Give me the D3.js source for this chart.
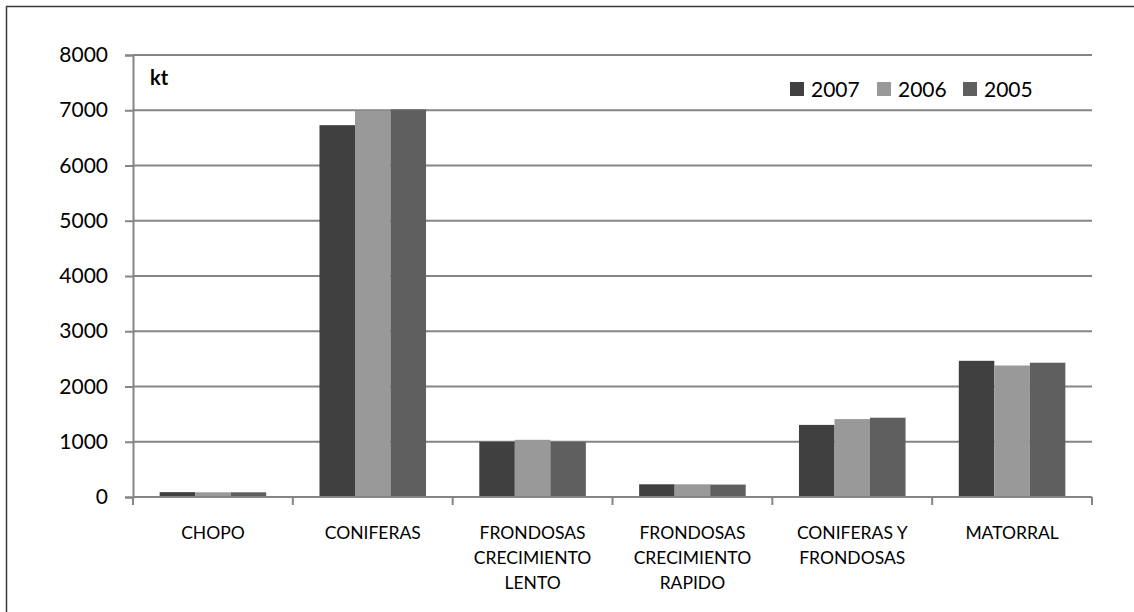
<!DOCTYPE html>
<html>
<head>
<meta charset="utf-8">
<script src="https://cdn.jsdelivr.net/npm/d3@7"></script>
<style>
  body { margin: 0; background: #fff; }
  svg { display: block; }
  text { font-family: "Lato", "Liberation Sans", sans-serif; fill: #000; }
</style>
</head>
<body>
<svg id="chart"></svg>
<script>
const width = 1134;
const height = 612;

const categories = [
    ["CHOPO"],
    ["CONIFERAS"],
    ["FRONDOSAS", "CRECIMIENTO", "LENTO"],
    ["FRONDOSAS", "CRECIMIENTO", "RAPIDO"],
    ["CONIFERAS Y", "FRONDOSAS"],
    ["MATORRAL"]
];
const years = ["2007", "2006", "2005"];
const values2007 = [88, 6730, 1000, 230, 1305, 2465];
const values2006 = [85, 6990, 1035, 230, 1410, 2380];
const values2005 = [85, 7015, 1000, 225, 1435, 2430];
const yTicks = [0, 1000, 2000, 3000, 4000, 5000, 6000, 7000, 8000];
const colors = ["#404040", "#999999", "#5f5f5f"];

const series = [values2007, values2006, values2005];
const catKeys = categories.map(c => c.join(" "));

const svg = d3.select("#chart")
    .attr("width", width)
    .attr("height", height);

// outer frame (right/bottom edges run off the picture)
svg.append("rect")
    .attr("x", 6.5)
    .attr("y", 6.5)
    .attr("width", width + 20)
    .attr("height", height + 20)
    .attr("fill", "none")
    .attr("stroke", "#3a3a3a")
    .attr("stroke-width", 1.5);

const x0 = d3.scaleBand()
    .domain(catKeys)
    .range([133, 1092])
    .padding(0);

const x1 = d3.scaleBand()
    .domain(years)
    .range([0, x0.bandwidth()])
    .paddingInner(0)
    .paddingOuter(0.75);

const y = d3.scaleLinear()
    .domain([0, 8000])
    .range([497, 55]);

// gridlines
svg.append("g")
    .selectAll("line")
    .data(yTicks.filter(d => d > 0))
    .join("line")
    .attr("x1", 133)
    .attr("x2", 1092)
    .attr("y1", d => y(d))
    .attr("y2", d => y(d))
    .attr("stroke", "#858585")
    .attr("stroke-width", 2);

// bars
catKeys.forEach((cat, i) => {
    years.forEach((yr, j) => {
        const v = series[j][i];
        svg.append("rect")
            .attr("x", x0(cat) + x1(yr))
            .attr("y", y(v))
            .attr("width", x1.bandwidth())
            .attr("height", y(0) - y(v))
            .attr("fill", colors[j]);
    });
});

// y axis
const yAxis = d3.axisLeft(y)
    .tickValues(yTicks)
    .tickSize(8)
    .tickPadding(17)
    .tickFormat(d3.format("d"));

const yAxisGroup = svg.append("g")
    .attr("transform", "translate(133,0)")
    .call(yAxis);
yAxisGroup.select(".domain").attr("stroke", "#858585").attr("stroke-width", 2);
yAxisGroup.selectAll(".tick line").attr("stroke", "#858585").attr("stroke-width", 2);
yAxisGroup.selectAll(".tick text")
    .attr("font-size", 21)
    .attr("font-family", "Lato, 'Liberation Sans', sans-serif")
    .attr("fill", "#000");

// x axis
const xAxisGroup = svg.append("g");
xAxisGroup.append("line")
    .attr("x1", 133)
    .attr("x2", 1092)
    .attr("y1", y(0))
    .attr("y2", y(0))
    .attr("stroke", "#858585")
    .attr("stroke-width", 2);

const tickPositions = catKeys.map(c => x0(c)).concat([x0.range()[1]]);
xAxisGroup.selectAll(".xtick")
    .data(tickPositions)
    .join("line")
    .attr("class", "xtick")
    .attr("x1", d => d)
    .attr("x2", d => d)
    .attr("y1", y(0))
    .attr("y2", y(0) + 8)
    .attr("stroke", "#858585")
    .attr("stroke-width", 2);

categories.forEach((lines, i) => {
    const t = svg.append("text")
        .attr("x", x0(catKeys[i]) + x0.bandwidth() / 2)
        .attr("y", 539)
        .attr("text-anchor", "middle")
        .attr("font-size", 17.5);
    lines.forEach((ln, k) => {
        t.append("tspan")
            .attr("x", x0(catKeys[i]) + x0.bandwidth() / 2)
            .attr("dy", k === 0 ? 0 : 25)
            .text(ln);
    });
});

// unit label
svg.append("text")
    .attr("x", 150)
    .attr("y", 85)
    .attr("font-size", 20)
    .attr("font-weight", "bold")
    .text("kt");

// legend
const legendX = [790, 877, 963];
years.forEach((yr, j) => {
    svg.append("rect")
        .attr("x", legendX[j])
        .attr("y", 82)
        .attr("width", 14)
        .attr("height", 14)
        .attr("fill", colors[j]);
    svg.append("text")
        .attr("x", legendX[j] + 21)
        .attr("y", 96.5)
        .attr("font-size", 21)
        .text(yr);
});
</script>
</body>
</html>
